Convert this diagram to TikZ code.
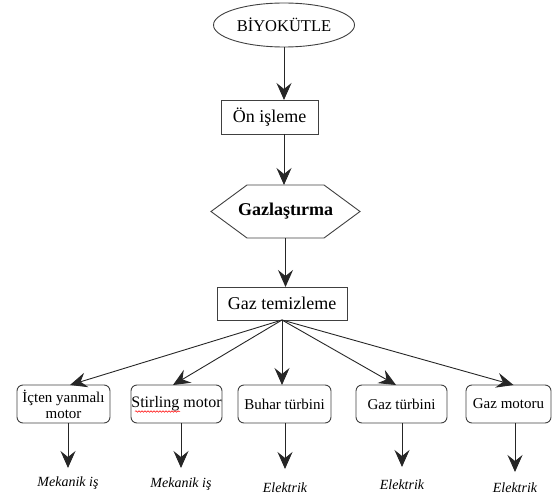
\documentclass[tikz,border=0pt]{standalone}
\usepackage{fontspec}
\setmainfont{LiberationSerif}[Extension=.ttf, UprightFont=*-Regular, BoldFont=*-Bold, ItalicFont=*-Italic, BoldItalicFont=*-BoldItalic]
\usetikzlibrary{arrows.meta,shapes.geometric,decorations.pathmorphing}
\begin{document}
\begin{tikzpicture}[x=1pt,y=-1pt,
  every node/.style={inner sep=0pt, outer sep=0pt},
  arr/.style={draw=black!85, line width=0.9pt, -{Stealth[length=17pt,width=15pt,inset=6pt]}},
  edge/.style={draw=black!75, line width=0.9pt},
  sq/.style={edge, font=\rmfamily\fontsize{18}{20}\selectfont},
  rbox/.style={edge, rounded corners=6pt, minimum height=38pt, align=center, font=\rmfamily\fontsize{15}{17}\selectfont},
  lbl/.style={anchor=north, inner xsep=0pt, font=\rmfamily\fontsize{14}{16}\selectfont\itshape}
]
\useasboundingbox (0,0) rectangle (553,497);

\node[ellipse, edge, minimum width=141pt, minimum height=44pt, font=\rmfamily\fontsize{16.5}{18}\selectfont] (bio) at (284,25) {BİYOKÜTLE};
\node[sq, minimum width=97pt, minimum height=34pt] (pre) at (269.5,117) {Ön işleme};
\node[minimum width=149pt, minimum height=53pt, font=\rmfamily\bfseries\fontsize{18}{20}\selectfont] (gas) at (285.5,211.5) {Gazlaştırma};
\draw[edge] ([xshift=36pt]gas.north west) -- ([xshift=-36pt]gas.north east) -- (gas.east)
  -- ([xshift=-36pt]gas.south east) -- ([xshift=36pt]gas.south west) -- (gas.west) -- cycle;
\node[sq, minimum width=130pt, minimum height=33pt] (gt) at (282,303.5) {Gaz temizleme};

\draw[arr] (bio.south) -- (bio.south |- pre.north);
\draw[arr] (pre.south -| bio.south) -- (bio.south |- gas.north);
\draw[arr] (gas.south) -- (gas.south |- gt.north);

\node[rbox, minimum width=93pt] (b1) at (63.5,404) {İçten yanmalı\\[-1pt]motor};
\node[rbox, minimum width=91pt, font=\rmfamily\fontsize{16}{18}\selectfont] (b2) at (176.5,404) {Stirling motor};
\node[rbox, minimum width=93pt] (b3) at (284.5,404) {Buhar türbini};
\node[rbox, minimum width=91pt] (b4) at (401.5,404) {Gaz türbini};
\node[rbox, minimum width=85pt] (b5) at (508.5,404) {Gaz motoru};
\draw[red, line width=0.5pt, decorate, decoration={snake, amplitude=0.8pt, segment length=3pt}] (135,411.5) -- (180,411.5);

\draw[arr] (gt.south) -- ([xshift=6.5pt]b1.north);
\draw[arr] (gt.south) -- ([xshift=-3.5pt]b2.north);
\draw[arr] (gt.south) -- (gt.south |- b3.north);
\draw[arr] (gt.south) -- ([xshift=-5.5pt]b4.north);
\draw[arr] (gt.south) -- ([xshift=5pt]b5.north);

\node[lbl, inner ysep=9pt] (l1) at (68,468) {Mekanik iş};
\node[lbl, inner ysep=10pt] (l2) at (181,468) {Mekanik iş};
\node[lbl, inner ysep=14pt] (l3) at (285,469) {Elektrik};
\node[lbl, inner ysep=13pt] (l4) at (402,467) {Elektrik};
\node[lbl, inner ysep=11pt] (l5) at (515,472) {Elektrik};

\draw[arr] (l1 |- b1.south) -- (l1.north);
\draw[arr] (l2 |- b2.south) -- (l2.north);
\draw[arr] (l3 |- b3.south) -- (l3.north);
\draw[arr] (l4 |- b4.south) -- (l4.north);
\draw[arr] (l5 |- b5.south) -- (l5.north);
\end{tikzpicture}
\end{document}
